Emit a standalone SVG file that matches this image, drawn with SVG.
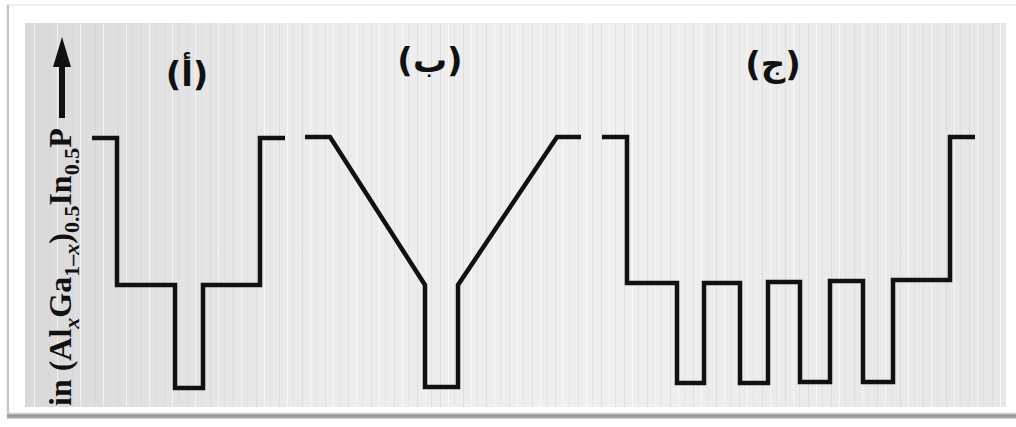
<svg xmlns="http://www.w3.org/2000/svg" width="1016" height="427" viewBox="0 0 1016 427">
<defs>
<style>
.curve{fill:none;stroke:#111;stroke-width:4.5;stroke-linejoin:miter;stroke-linecap:butt}
.lbl{font-family:"DejaVu Sans",sans-serif;font-weight:bold;font-size:34px;fill:#111;text-anchor:middle}
.axis{font-family:"Liberation Serif",serif;font-weight:bold;font-size:32px;fill:#111}
.sub{font-size:22px}
</style>
<linearGradient id="bg" x1="0" y1="0" x2="1" y2="0">
<stop offset="0" stop-color="#d9d9d9"/>
<stop offset="0.3" stop-color="#ececec"/>
<stop offset="0.6" stop-color="#efefef"/>
<stop offset="1" stop-color="#e6e6e6"/>
</linearGradient>
<linearGradient id="shadow" x1="0" y1="0" x2="0" y2="1">
<stop offset="0" stop-color="#c8c8c8"/>
<stop offset="0.5" stop-color="#8e8e8e"/>
<stop offset="1" stop-color="#d6d6d6"/>
</linearGradient>
<pattern id="streaks" width="23" height="10" patternUnits="userSpaceOnUse">
<rect x="3" y="0" width="1" height="10" fill="#cfcfcf" opacity="0.5"/>
<rect x="11" y="0" width="1" height="10" fill="#ffffff" opacity="0.6"/>
<rect x="17" y="0" width="1" height="10" fill="#d5d5d5" opacity="0.4"/>
</pattern>
</defs>
<rect width="1016" height="427" fill="#ffffff"/>
<rect x="7" y="413" width="1009" height="6" fill="url(#shadow)"/>
<rect x="7" y="5" width="1012" height="408" fill="#ffffff" stroke="#e0e0e0" stroke-width="1"/>
<rect x="7" y="5" width="2" height="408" fill="#c4c4c4"/>
<g id="photo">
<rect x="25" y="23" width="981" height="384" fill="url(#bg)"/>
<rect x="25" y="23" width="981" height="384" fill="url(#streaks)"/>
</g>
<g id="axis">
<line x1="62" y1="118" x2="62" y2="62" stroke="#111" stroke-width="6"/>
<path d="M62,37 L71,67 L53,67 z" fill="#111"/>
<text class="axis" transform="translate(71,406) rotate(-90)">in (Al<tspan class="sub" dy="8" font-style="italic">x</tspan><tspan dy="-8">Ga</tspan><tspan class="sub" dy="8">1–<tspan font-style="italic">x</tspan></tspan><tspan dy="-8">)</tspan><tspan class="sub" dy="8">0.5</tspan><tspan dy="-8">In</tspan><tspan class="sub" dy="8">0.5</tspan><tspan dy="-8">P</tspan></text>
</g>
<g id="panel-a">
<text class="lbl" x="187" y="86">(أ)</text>
<polyline class="curve" points="92,138 117,138 117,285 175,285 175,388 203,388 203,285 260,285 260,138 285,138"/>
</g>
<g id="panel-b">
<text class="lbl" x="430" y="72">(ب)</text>
<polyline class="curve" points="305,137 330,137 425,285 425,387 458,387 458,285 557,137 581,137"/>
</g>
<g id="panel-c">
<text class="lbl" x="773" y="76">(ج)</text>
<polyline class="curve" points="602,137 627,137 627,283 677,283 677,383 704,383 704,283 740,283 740,383 768,383 768,282 800,282 800,382 830,382 830,281 863,281 863,382 893,382 893,280 950,280 950,137 975,137"/>
</g>
</svg>
